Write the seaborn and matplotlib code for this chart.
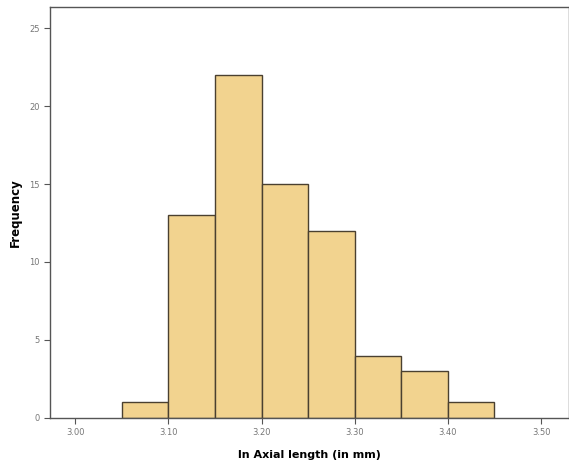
import numpy as np
import seaborn as sns
import matplotlib.pyplot as plt

bin_edges = [3.05, 3.10, 3.15, 3.20, 3.25, 3.30, 3.35, 3.40, 3.45]
counts = [1, 13, 22, 15, 12, 4, 3, 1]
x_ticks = [3.00, 3.10, 3.20, 3.30, 3.40, 3.50]
x_labels = ['3.00', '3.10', '3.20', '3.30', '3.40', '3.50']
y_ticks = [0, 5, 10, 15, 20, 25]

centers = [(a + b) / 2 for a, b in zip(bin_edges[:-1], bin_edges[1:])]

sns.set_style('ticks')
fig = plt.figure(figsize=(5.69, 4.68), dpi=100)
ax = fig.add_axes([0.088, 0.107, 0.912, 0.878])

sns.histplot(x=centers, weights=counts, bins=bin_edges, color='#F2D38F',
             edgecolor='#4a4030', linewidth=1.0, alpha=1, ax=ax)

ax.set_xlim(2.973, 3.53)
ax.set_ylim(0, 26.35)
ax.set_xticks(x_ticks)
ax.set_xticklabels(x_labels)
ax.set_yticks(y_ticks)
ax.tick_params(axis='both', labelsize=6, color='#555555', labelcolor='#777777',
               length=4, width=0.8, direction='out')
for s in ax.spines.values():
    s.set_visible(True)
    s.set_color('#555555')
    s.set_linewidth(1.0)

ax.set_xlabel('ln Axial length (in mm)', fontsize=8, fontweight='bold',
              labelpad=9, color='black')
ax.set_ylabel('Frequency', fontsize=8.5, fontweight='bold', labelpad=5,
              color='black')

fig.savefig('out.png', dpi=100)
